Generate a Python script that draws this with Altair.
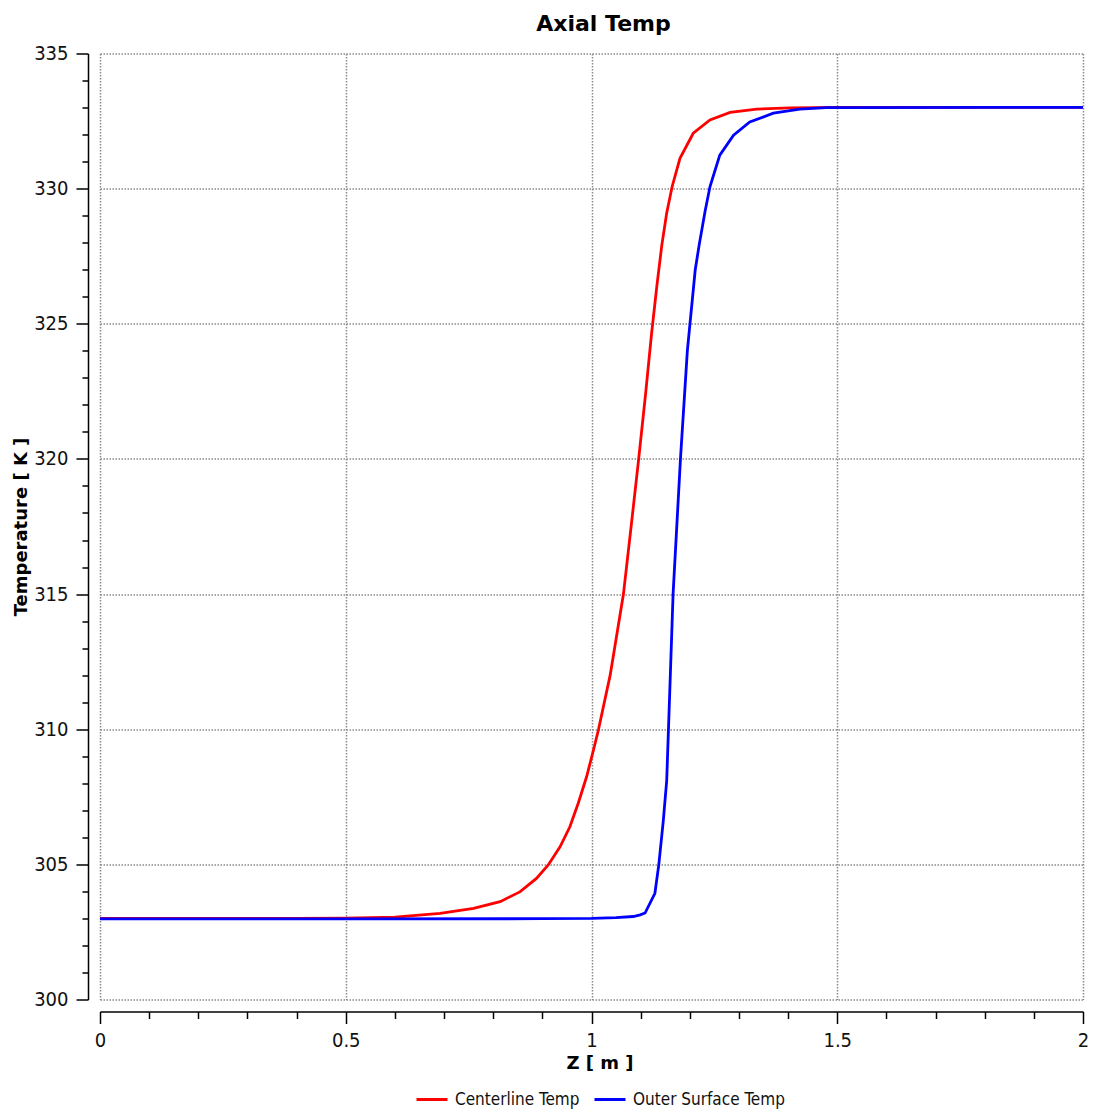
import altair as alt
import pandas as pd

# ---- data ----
centerline_z = [0.0, 0.4, 0.5, 0.6, 0.692, 0.76, 0.814, 0.855, 0.888, 0.912, 0.936,
                0.956, 0.973, 0.99, 1.004, 1.014, 1.038, 1.065, 1.08, 1.096, 1.11,
                1.122, 1.133, 1.143, 1.153, 1.164, 1.18, 1.207, 1.241, 1.282, 1.336,
                1.404, 1.5, 2.0]
centerline_t = [303.0, 303.0, 303.01, 303.05, 303.19, 303.37, 303.62, 303.99, 304.48,
                304.98, 305.65, 306.39, 307.26, 308.24, 309.23, 309.97, 312.0, 315.0,
                317.4, 320.0, 322.4, 324.6, 326.4, 327.9, 329.1, 330.07, 331.12,
                332.05, 332.54, 332.82, 332.94, 332.99, 333.01, 333.01]

outer_z = [0.0, 0.5, 0.9, 1.0, 1.05, 1.085, 1.099, 1.109, 1.129, 1.137, 1.146, 1.153,
           1.16, 1.166, 1.181, 1.195, 1.211, 1.219, 1.231, 1.241, 1.261, 1.289, 1.322,
           1.37, 1.424, 1.478, 2.0]
outer_t = [302.98, 302.98, 302.99, 303.0, 303.03, 303.07, 303.13, 303.2, 303.93, 305.0,
           306.6, 308.1, 311.8, 315.0, 320.0, 324.0, 326.99, 327.91, 329.15, 330.07,
           331.24, 331.98, 332.47, 332.79, 332.94, 333.0, 333.01]

series_names = ["Centerline Temp", "Outer Surface Temp"]
series_colors = ["#ff0000", "#0000ff"]

x_major = [0, 0.5, 1, 1.5, 2]
x_minor = [0.1, 0.2, 0.3, 0.4, 0.6, 0.7, 0.8, 0.9, 1.1, 1.2, 1.3, 1.4,
           1.6, 1.7, 1.8, 1.9]
y_major = [300, 305, 310, 315, 320, 325, 330, 335]
y_minor = [v for v in range(300, 336) if v % 5 != 0]

df = pd.concat([
    pd.DataFrame({"z": centerline_z, "T": centerline_t, "series": series_names[0],
                  "order": range(len(centerline_z))}),
    pd.DataFrame({"z": outer_z, "T": outer_t, "series": series_names[1],
                  "order": range(len(outer_z))}),
])

LABEL_FONT = "DejaVu Sans Condensed, Liberation Sans, sans-serif"
BOLD_FONT = "DejaVu Sans"

x_scale = alt.Scale(domain=[0, 2], nice=False, zero=False)
y_scale = alt.Scale(domain=[300, 335], nice=False, zero=False)

lines = alt.Chart(df).mark_line(strokeWidth=2.8, clip=True).encode(
    x=alt.X("z:Q", scale=x_scale,
            axis=alt.Axis(values=x_major, orient="bottom", offset=12, tickSize=12,
                          tickWidth=1.5, tickColor="black", domainColor="black",
                          domainWidth=1.5, labelFont=LABEL_FONT, labelFontSize=20,
                          labelColor="#111", labelPadding=7, format="~g",
                          labelOverlap=False, labelFlush=False,
                          grid=True, gridColor="#8a8a8a", gridDash=[1.5, 1.5],
                          gridWidth=1.5, title="Z [ m ]", titleFont=BOLD_FONT,
                          titleFontSize=18, titleFontWeight="bold",
                          titleColor="black", titlePadding=4, titleX=499.5)),
    y=alt.Y("T:Q", scale=y_scale,
            axis=alt.Axis(values=y_major, orient="left", offset=12, tickSize=12,
                          tickWidth=1.5, tickColor="black", domainColor="black",
                          domainWidth=1.5, labelFont=LABEL_FONT, labelFontSize=20,
                          labelColor="#111", labelPadding=8, labelOverlap=False,
                          grid=True, gridColor="#8a8a8a", gridDash=[1.5, 1.5],
                          gridWidth=1.5, title="Temperature [ K ]",
                          titleFont=BOLD_FONT, titleFontSize=18,
                          titleFontWeight="bold", titleColor="black",
                          titlePadding=3)),
    color=alt.Color("series:N",
                    scale=alt.Scale(domain=series_names, range=series_colors),
                    legend=alt.Legend(orient="none", legendX=315, legendY=1029,
                                      direction="horizontal", title=None,
                                      symbolType="stroke", symbolSize=960,
                                      symbolStrokeWidth=3, labelFont=LABEL_FONT,
                                      labelFontSize=17, labelColor="#111",
                                      labelOffset=6, columnPadding=8)),
    order="order:Q",
)

minor = alt.Chart(df).mark_line(opacity=0).encode(
    x=alt.X("z:Q", scale=x_scale,
            axis=alt.Axis(values=x_minor, orient="bottom", offset=12, tickSize=7,
                          tickWidth=1.5, tickColor="black", domain=False,
                          labels=False, grid=False, title=None)),
    y=alt.Y("T:Q", scale=y_scale,
            axis=alt.Axis(values=y_minor, orient="left", offset=12, tickSize=6,
                          tickWidth=1.5, tickColor="black", domain=False,
                          labels=False, grid=False, title=None)),
    detail="series:N",
)

chart = alt.layer(lines, minor).resolve_axis(
    x="independent", y="independent"
).properties(
    width=983,
    height=946,
    title=alt.TitleParams(text="Axial Temp", font=BOLD_FONT, fontSize=22,
                          fontWeight="bold", color="black", anchor="middle",
                          dx=12, offset=8),
    autosize=alt.AutoSizeParams(type="none"),
    padding={"left": 92, "top": 45.5, "right": 16, "bottom": 112},
).configure_view(stroke=None)

chart.save("out.html", embed_options={"renderer": "svg", "actions": False})
